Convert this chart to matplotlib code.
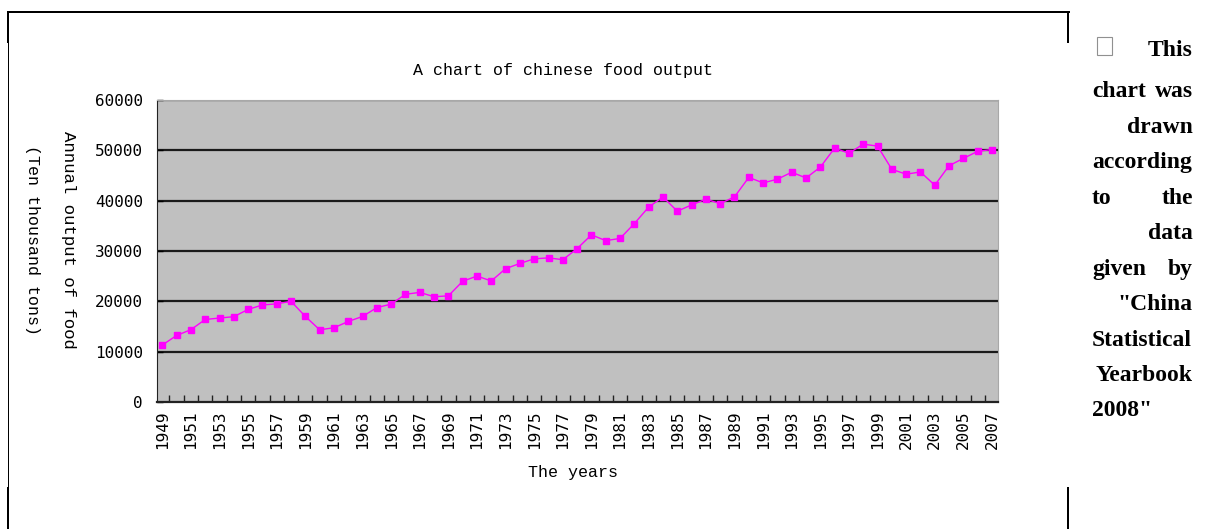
import matplotlib.pyplot as plt
from matplotlib.lines import Line2D
from matplotlib.patches import Rectangle

# grain output of China, ten thousand tons
years = list(range(1949, 2008))
output = [11318, 13213, 14369, 16392, 16683, 16952, 18394, 19275, 19505, 20000,
          17000, 14350, 14750, 16000, 17000, 18750, 19453, 21400, 21782, 20906,
          21097, 23996, 25014, 24048, 26494, 27527, 28452, 28631, 28273, 30477,
          33212, 32056, 32502, 35450, 38728, 40731, 37911, 39151, 40298, 39408,
          40755, 44624, 43529, 44266, 45649, 44510, 46662, 50454, 49417, 51230,
          50839, 46218, 45264, 45706, 43070, 46947, 48402, 49804, 50160]
label_years = list(range(1949, 2008, 2))
y_ticks = [0, 10000, 20000, 30000, 40000, 50000, 60000]

note_lines = [("", "This"), ("chart", "was"), ("", "drawn"), ("according", ""),
              ("to", "the"), ("", "data"), ("given", "by"), ("", "\"China"),
              ("Statistical", ""), ("", "Yearbook"), ("2008\"", "")]

W, H = 1205, 529
fig = plt.figure(figsize=(W / 100, H / 100), dpi=100)
ax = fig.add_axes([157 / W, 1 - 402 / H, (998 - 157) / W, (402 - 100) / H])
ax.set_facecolor('#c0c0c0')

ax.plot(years, output, color='#ff00ff', lw=1, marker='s', markersize=5,
        markeredgecolor='#ff00ff', zorder=3)

ax.set_xlim(1948.63, 2007.42)
ax.set_ylim(0, 60000)
ax.set_yticks(y_ticks)
ax.set_yticklabels([str(v) for v in y_ticks], family='DejaVu Sans Mono', fontsize=11.5)
for v in y_ticks[1:]:
    ax.axhline(v, color='#1a1a1a', lw=1.6, zorder=1)

ax.set_xticks(label_years)
ax.set_xticklabels([str(y) for y in label_years], rotation=90,
                   family='DejaVu Sans Mono', fontsize=11.5)
ax.set_xticks([y + 0.5 for y in years[:-1]], minor=True)
ax.tick_params(axis='x', which='major', length=0, pad=6)
ax.tick_params(axis='x', which='minor', direction='in', length=5, width=1, color='#222222')
ax.tick_params(axis='y', direction='in', length=4, width=1, pad=10)

ax.spines['left'].set_color('#222222')
ax.spines['bottom'].set_color('#222222')
ax.spines['bottom'].set_linewidth(1.6)
ax.spines['top'].set_color('#a8a8a8')
ax.spines['right'].set_color('#a8a8a8')

fig.text(563 / W, 1 - 71 / H, 'A chart of chinese food output',
         family='Liberation Mono', fontsize=12, ha='center', va='center')
fig.text(573 / W, 1 - 473 / H, 'The years',
         family='Liberation Mono', fontsize=12, ha='center', va='center')
fig.text(68 / W, 1 - 240 / H, 'Annual output of food', rotation=270,
         family='Liberation Mono', fontsize=12.5, ha='center', va='center')
fig.text(32 / W, 1 - 240 / H, '(Ten thousand tons)', rotation=270,
         family='Liberation Mono', fontsize=12, ha='center', va='center')

# page frame around the picture
frame = [((8, 1069), (12, 12), 2), ((8, 8), (12, 42), 2), ((1068, 1068), (12, 42), 2),
         ((8, 8), (42, 488), 1), ((8, 8), (488, 529), 2), ((1068, 1068), (488, 529), 2)]
for xs, ys, lw in frame:
    fig.add_artist(Line2D([x / W for x in xs], [1 - y / H for y in ys],
                          color='black', lw=lw * 0.72))

# side note, justified column
fig.add_artist(Rectangle((1097 / W, 1 - 55 / H), 15 / W, 18 / H, fill=False,
                         edgecolor='#909090', lw=0.8))
baselines = [56] + [97 + 35.5 * i for i in range(len(note_lines) - 1)]
for (left, right), b in zip(note_lines, baselines):
    if left:
        fig.text(1092 / W, 1 - b / H, left, family='Liberation Serif',
                 weight='bold', fontsize=17, ha='left', va='baseline')
    if right:
        fig.text(1193 / W, 1 - b / H, right, family='Liberation Serif',
                 weight='bold', fontsize=17, ha='right', va='baseline')

fig.savefig('out.png', dpi=100)
